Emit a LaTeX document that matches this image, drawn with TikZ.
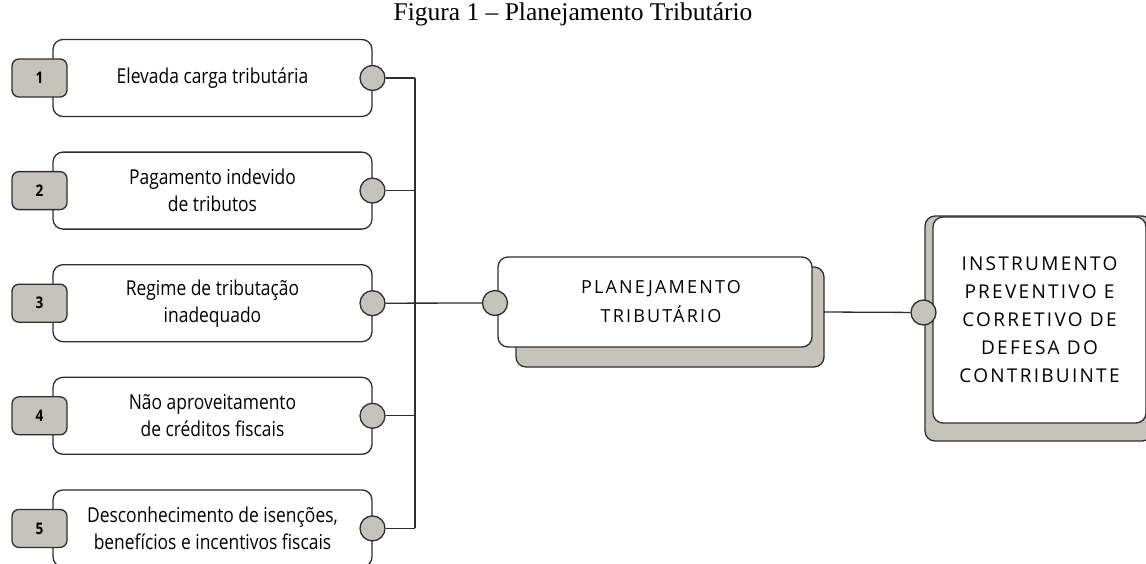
\documentclass[tikz,border=0pt]{standalone}
\usepackage{fontspec}
\setmainfont{Liberation Serif}
\newfontfamily\itemfont[FakeStretch=0.85]{Open Sans}
\newfontfamily\capsfont[LetterSpace=12]{Open Sans}
\usetikzlibrary{positioning}

\definecolor{pierre}{HTML}{C6C3BA}
\definecolor{trait}{HTML}{2E2E2E}

\tikzset{
  carte/.style={draw=trait, line width=1.3pt, fill=white, rounded corners=10pt, inner sep=0pt, align=center},
  cause/.style={carte, minimum width=319pt, minimum height=77pt, font=\itemfont\fontsize{20.5}{27}\selectfont},
  ombre/.style={draw=trait, line width=1.3pt, fill=pierre, rounded corners=10pt, inner sep=0pt},
  onglet/.style={draw=trait, line width=1.3pt, fill=pierre, rounded corners=7pt,
    minimum width=55pt, minimum height=38pt, inner sep=0pt,
    font=\itemfont\bfseries\fontsize{16}{16}\selectfont},
  port/.style={circle, draw=trait, line width=1.3pt, fill=pierre, minimum size=25pt, inner sep=0pt},
  lien/.style={draw=trait, line width=1.3pt},
}

\begin{document}
\begin{tikzpicture}[x=1pt,y=-1pt]

    \useasboundingbox (0,0) rectangle (1146,563);

    % Titre
    \node[font=\fontsize{25.5}{25.5}\selectfont] (titre) at (573,14) {Figura 1 -- Planejamento Tributário};

    % ---- Causes (colonne de gauche) ----
    \node[cause] (item1) at (212.5,78)    {Elevada carga tributária};
    \node[cause] (item2) at (212.5,190.6) {Pagamento indevido\\de tributos};
    \node[cause] (item3) at (212.5,303.2) {Regime de tributação\\inadequado};
    \node[cause] (item4) at (212.5,415.8) {Não aproveitamento\\de créditos fiscais};
    \node[cause] (item5) at (212.5,528.4) {Desconhecimento de isenções,\\benefícios e incentivos fiscais};

    \foreach \i in {1,...,5}{
      \node[onglet] (num\i) at (39.5,{78+112.6*(\i-1)}) {\i};
      \node[port] (port\i) at (372.5,{78+112.6*(\i-1)}) {};
      \coordinate (bus\i) at (415,{78+112.6*(\i-1)});
    }

    % Bus vertical
    \draw[lien] (bus1) -- (bus5);
    \foreach \i in {1,2,4,5}{
      \draw[lien] (port\i) -- (bus\i);
    }

    % ---- Planejamento ----
    \node[ombre, minimum width=308pt, minimum height=100pt] (planB) at (670,317) {};
    \node[carte, minimum width=314pt, minimum height=90pt,
          font=\capsfont\fontsize{18}{29}\selectfont] (plan) at (655,302)
          {\hspace*{12pt}PLANEJAMENTO\\\hspace*{12pt}TRIBUTÁRIO};
    \node[port] (portP) at (495,303) {};
    \draw[lien] (port3) -- (portP);

    % ---- Instrument ----
    \coordinate (sortieP) at (824,312);
    \node[ombre, minimum width=227pt, minimum height=225pt] (instB) at (1038.5,328.5) {};
    \node[carte, minimum width=213pt, minimum height=206pt,
          font=\capsfont\fontsize{19}{28}\selectfont] (inst) at (1039.5,320)
          {INSTRUMENTO\\PREVENTIVO E\\CORRETIVO DE\\DEFESA DO\\CONTRIBUINTE};
    \node[port] (portI) at (923.5,312.5) {};
    \draw[lien] (sortieP) -- (portI);

\end{tikzpicture}
\end{document}
